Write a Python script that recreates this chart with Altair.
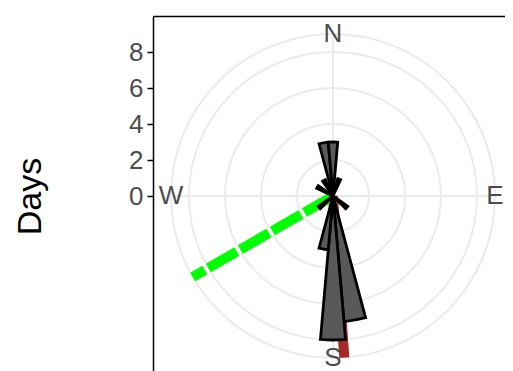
import math
import altair as alt
import pandas as pd

# Rose diagram data (bin centre in degrees clockwise from North, count of days)
petal_center = [350, 0, 20, 130, 170, 180, 190, 230, 300, 330]
petal_count = [3, 3, 1, 1, 7, 8, 3, 1, 1, 1]
bin_width = 10

# grid rings (days) and compass labels
ring_values = [2, 4, 6, 8, 9]
compass_labels = ["N", "E", "S", "W"]
compass_angles = [0, 90, 180, 270]

# mean-direction style lines
red_angle = [176]
red_length = [9]
green_angle = [240]
green_length = [9]

y_ticks = [0, 2, 4, 6, 8]

FONT = "Liberation Sans"
PI2 = 2 * math.pi
PANEL = 360   # square polar panel (pixels); right/bottom edges cropped like the reference
VIEW_W = 352
VIEW_H = 360

theta_scale = alt.Scale(domain=[0, 360], range=[0, PI2])
r_scale = alt.Scale(type="linear", domain=[0, 10], range=[0, PANEL / 2], zero=True)
xs = alt.Scale(domain=[-10, 10], range=[0, PANEL], nice=False, zero=False)
ys = alt.Scale(domain=[-10, 10], range=[PANEL, 0], nice=False, zero=False)

x_axis = alt.Axis(
    orient="top", labels=False, ticks=False, title=None, grid=False,
    domainColor="black", domainWidth=1.5,
)
y_axis = alt.Axis(
    values=y_ticks, title="Days", grid=False, domainColor="black",
    domainWidth=1.5, tickColor="black", tickWidth=1.5, tickSize=6,
    labelPadding=4, labelFontSize=26, labelColor="#4D4D4D", labelFont=FONT,
    titleFontSize=34, titleFont=FONT, titleFontWeight="normal",
    titleColor="black", titleAngle=270, titleX=-123, titleY=180,
    titleAlign="center", titleBaseline="middle",
)

petals = pd.DataFrame({"center": petal_center, "count": petal_count})
rings = pd.DataFrame({"r": ring_values})
spokes = pd.DataFrame({"a": compass_angles, "len": [9, 9, 9, 9]})
labels = pd.DataFrame({"lab": compass_labels, "a": compass_angles})
red = pd.DataFrame({"a": red_angle, "len": red_length})
green = pd.DataFrame({"a": green_angle, "len": green_length})

ring_layer = alt.Chart(rings).mark_arc(
    theta=0, theta2=PI2, filled=False, stroke="#EBEBEB", strokeWidth=2
).encode(
    x=alt.value(PANEL / 2),
    y=alt.value(PANEL / 2),
    radius=alt.Radius("r:Q", scale=r_scale, stack=None),
)


def radial_rule(df, **mk):
    return (
        alt.Chart(df)
        .transform_calculate(
            x0="0",
            y0="0",
            x1="datum.len*sin(datum.a*PI/180)",
            y1="datum.len*cos(datum.a*PI/180)",
        )
        .mark_rule(**mk)
        .encode(
            x=alt.X("x0:Q", scale=xs, axis=x_axis),
            y=alt.Y("y0:Q", scale=ys, axis=y_axis),
            x2="x1:Q",
            y2="y1:Q",
        )
    )


spoke_layer = radial_rule(spokes, color="#EBEBEB", strokeWidth=2)
red_layer = radial_rule(red, color="#A52A2A", strokeWidth=10)
green_layer = radial_rule(green, color="#00FF00", strokeWidth=10, strokeDash=[33, 4])

petal_layer = (
    alt.Chart(petals)
    .transform_calculate(
        start=f"datum.center-{bin_width/2}", end=f"datum.center+{bin_width/2}"
    )
    .mark_arc(fill="#595959", stroke="black", strokeWidth=2.8)
    .encode(
        x=alt.value(PANEL / 2),
        y=alt.value(PANEL / 2),
        theta=alt.Theta("start:Q", scale=theta_scale, stack=None),
        theta2="end:Q",
        radius=alt.Radius("count:Q", scale=r_scale, stack=None),
    )
)

label_layer = (
    alt.Chart(labels)
    .transform_calculate(
        x0="9*sin(datum.a*PI/180)", y0="9*cos(datum.a*PI/180)"
    )
    .mark_text(fontSize=26, font=FONT, color="#4D4D4D", align="center", baseline="middle")
    .encode(
        x=alt.X("x0:Q", scale=xs, axis=x_axis),
        y=alt.Y("y0:Q", scale=ys, axis=y_axis),
        text="lab:N",
    )
)

chart = (
    alt.layer(ring_layer, spoke_layer, red_layer, green_layer, petal_layer, label_layer)
    .properties(
        width=VIEW_W,
        height=VIEW_H,
        autosize=alt.AutoSizeParams(type="none"),
        padding={"left": 145, "top": 8, "right": 0, "bottom": 0},
    )
    .configure_view(stroke=None)
)

chart.save("out.html", embed_options={"renderer": "svg", "actions": False})
